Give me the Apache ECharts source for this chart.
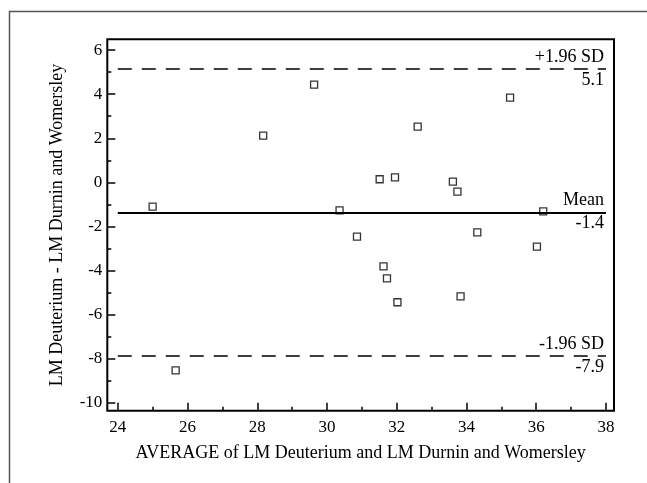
<!DOCTYPE html>
<html>
<head>
<meta charset="utf-8">
<title>Bland-Altman plot</title>
<script src="https://cdn.jsdelivr.net/npm/echarts@6/dist/echarts.min.js"></script>
<style>
html,body{margin:0;padding:0;background:#fff;}
#main{width:647px;height:483px;}
</style>
</head>
<body>
<div id="main"></div>
<script>
// 数据
var avgValues  = [25.0, 25.66, 28.17, 29.63, 30.36, 30.86, 31.51, 31.62, 31.72, 31.95, 32.02, 32.6, 33.61, 33.74, 33.83, 34.31, 35.25, 36.02, 36.2];
var diffValues = [-1.1, -8.53, 2.12, 4.43, -1.27, -2.46, 0.14, -3.81, -4.36, 0.23, -5.44, 2.53, 0.03, -0.42, -5.17, -2.27, 3.84, -2.92, -1.32];

var xTicks = [24, 26, 28, 30, 32, 34, 36, 38];
var xMinorTicks = [25, 27, 29, 31, 33, 35, 37];
var yTicks = [-10, -8, -6, -4, -2, 0, 2, 4, 6];
var yMinorTicks = [-9, -7, -5, -3, -1, 1, 3, 5];

// 均值与 ±1.96 SD
var limitValues = [5.15, -1.37, -7.87];
var limitNames  = ['+1.96 SD', 'Mean', '-1.96 SD'];
var limitTexts  = ['5.1', '-1.4', '-7.9'];

(function(){
	var font = "'Liberation Serif', 'DejaVu Serif', serif";
	var chart = echarts.init(document.getElementById('main'));

	var points = [];
	for (var i = 0; i < avgValues.length; i++) {
		points.push([avgValues[i], diffValues[i]]);
	}

	var lineStart = xTicks[0], lineEnd = xTicks[xTicks.length - 1];
	var lines = [];
	for (var k = 0; k < limitValues.length; k++) {
		var style = k == 1 ? {color:'#000', width:2, type:'solid'} : {color:'#000', width:1.6, type:[14, 10]};
		// 线上方的名称
		lines.push([
			{coord:[lineStart, limitValues[k]], lineStyle:style,
			 label:{show:true, position:'insideEndTop', formatter:limitNames[k], distance:[2, 3]}},
			{coord:[lineEnd, limitValues[k]]}
		]);
		// 线下方的数值 (线本身透明)
		lines.push([
			{coord:[lineStart, limitValues[k]], lineStyle:{color:'rgba(0,0,0,0)', width:0},
			 label:{show:true, position:'insideEndBottom', formatter:limitTexts[k], distance:[2, 2]}},
			{coord:[lineEnd, limitValues[k]]}
		]);
	}

	var option = {
		animation:false,
		textStyle:{fontFamily:font, color:'#000'},
		grid:{left:107.3, top:39.3, right:33, bottom:72.3, show:true, borderColor:'#000', borderWidth:2},
		graphic:[{
			type:'polyline', silent:true,
			shape:{points:[[9.5, 483], [9.5, 11.5], [647, 11.5]]},
			style:{stroke:'#555', lineWidth:1.5, fill:null}
		}],
		xAxis:[{
			type:'value', min:23.7, max:38.23,
			name:'AVERAGE of LM Deuterium and LM Durnin and Womersley',
			nameLocation:'middle', nameGap:34,
			nameTextStyle:{fontSize:18, fontFamily:font, color:'#000'},
			axisLine:{show:false, onZero:false},
			axisTick:{inside:true, length:8, customValues:xTicks, lineStyle:{color:'#000', width:1.5}},
			axisLabel:{customValues:xTicks, fontSize:17, fontFamily:font, color:'#000', margin:8},
			splitLine:{show:false}
		},{
			// 次刻度
			type:'value', min:23.7, max:38.23, position:'bottom',
			axisLine:{show:false, onZero:false}, axisLabel:{show:false}, splitLine:{show:false},
			axisTick:{inside:true, length:4, customValues:xMinorTicks, lineStyle:{color:'#000', width:1.5}}
		}],
		yAxis:[{
			type:'value', min:-10.36, max:6.49,
			name:'LM Deuterium - LM Durnin and Womersley',
			nameLocation:'middle', nameGap:41,
			nameTextStyle:{fontSize:18, fontFamily:font, color:'#000'},
			axisLine:{show:false, onZero:false},
			axisTick:{inside:true, length:8, customValues:yTicks, lineStyle:{color:'#000', width:1.5}},
			axisLabel:{customValues:yTicks, fontSize:17, fontFamily:font, color:'#000', margin:5},
			splitLine:{show:false}
		},{
			type:'value', min:-10.36, max:6.49, position:'left',
			axisLine:{show:false, onZero:false}, axisLabel:{show:false}, splitLine:{show:false},
			axisTick:{inside:true, length:4, customValues:yMinorTicks, lineStyle:{color:'#000', width:1.5}}
		}],
		series:[{
			type:'scatter',
			xAxisIndex:0, yAxisIndex:0,
			symbol:'rect', symbolSize:7,
			itemStyle:{color:'none', borderColor:'#000', borderWidth:1.3},
			data:points,
			markLine:{
				silent:true, symbol:'none',
				label:{fontSize:18, fontFamily:font, color:'#000'},
				data:lines
			}
		}]
	};
	chart.setOption(option);
})();
</script>
</body>
</html>
